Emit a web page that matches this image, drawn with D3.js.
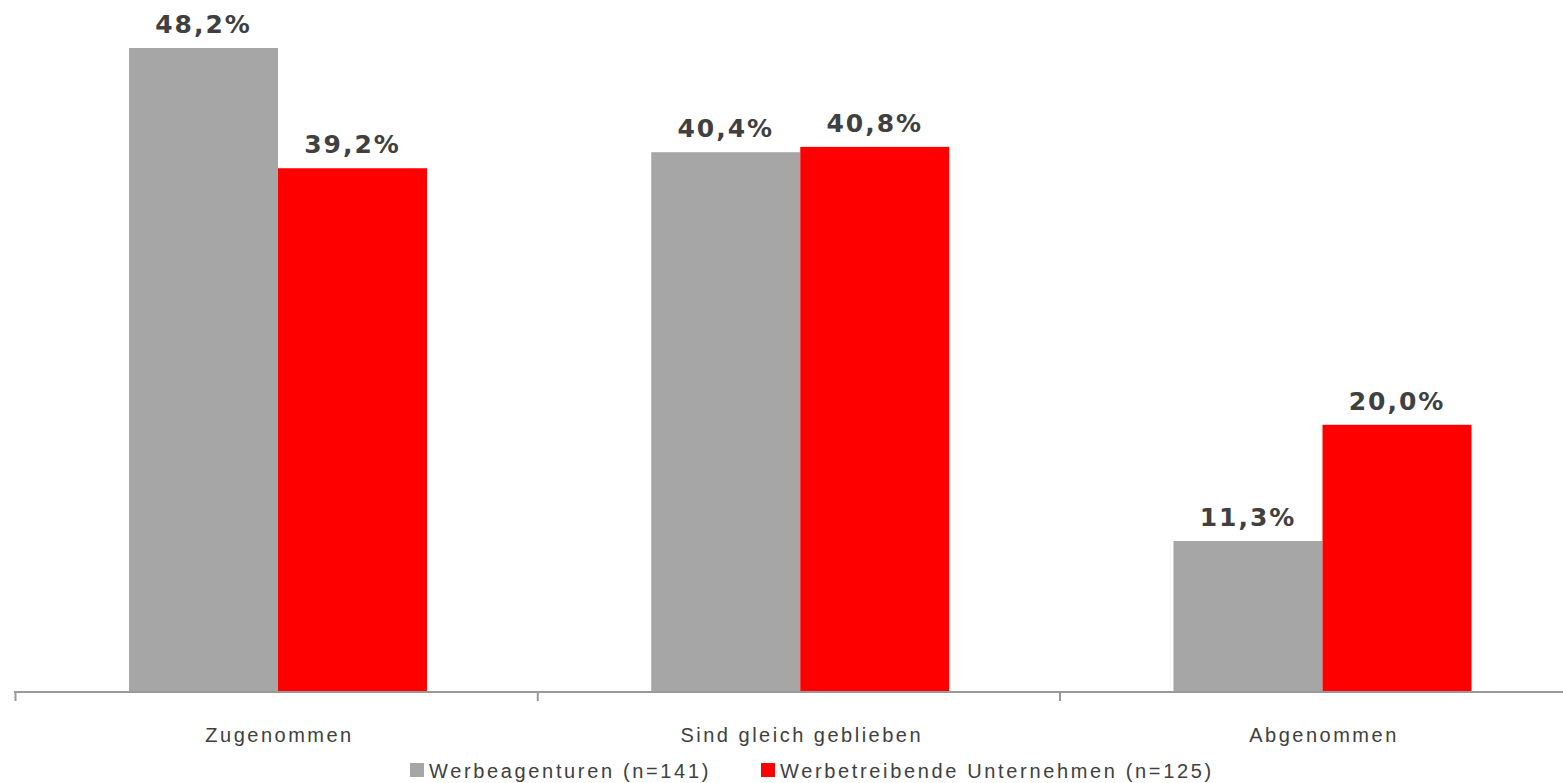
<!DOCTYPE html>
<html><head><meta charset="utf-8">
<script src="https://cdn.jsdelivr.net/npm/d3@7"></script>
<style>body{margin:0;background:#fff}svg{display:block}</style>
</head><body>
<svg id="c" width="1563" height="783"></svg>
<script>
const categories = ["Zugenommen", "Sind gleich geblieben", "Abgenommen"];
const seriesNames = ["Werbeagenturen (n=141)", "Werbetreibende Unternehmen (n=125)"];
const agenturen = [48.2, 40.4, 11.3];
const unternehmen = [39.2, 40.8, 20.0];
const colors = ["#a6a6a6", "#ff0000"];

const svg = d3.select("#c");
const baseY = 692;
const step = 522.25;
const x = d3.scaleBand().domain(categories).range([15, 15 + step * 3]).paddingInner(0).paddingOuter(0);
const barW = 149;
const x1 = d3.scaleBand().domain([0, 1]).range([114, 114 + 2 * barW]).padding(0);
const y = d3.scaleLinear().domain([0, 48.2]).range([baseY, 48]);
const fmt = v => v.toFixed(1).replace(".", ",") + "%";

const series = [agenturen, unternehmen];
const g = svg.append("g");
series.forEach((vals, s) => {
  g.selectAll(".b" + s).data(categories).enter().append("rect")
    .attr("x", d => x(d) + x1(s))
    .attr("width", x1.bandwidth())
    .attr("y", (d, i) => y(vals[i]))
    .attr("height", (d, i) => baseY + 1 - y(vals[i]))
    .attr("fill", colors[s]);
  g.selectAll(".l" + s).data(categories).enter().append("text")
    .attr("x", d => x(d) + x1(s) + x1.bandwidth() / 2)
    .attr("y", (d, i) => y(vals[i]) - 15)
    .attr("text-anchor", "middle")
    .attr("font-family", "DejaVu Sans")
    .attr("font-weight", "bold")
    .attr("font-size", 25)
    .attr("letter-spacing", "2px")
    .attr("fill", "#404040")
    .text((d, i) => fmt(vals[i]));
});

// axis
const axis = svg.append("g");
axis.append("line").attr("x1", 14).attr("x2", 1563).attr("y1", baseY).attr("y2", baseY)
  .attr("stroke", "#999999").attr("stroke-width", 2);
categories.forEach(c => {
  axis.append("line").attr("x1", x(c) + 0.5).attr("x2", x(c) + 0.5).attr("y1", baseY).attr("y2", 701)
    .attr("stroke", "#999999").attr("stroke-width", 2);
  axis.append("text").attr("x", x(c) + x1.range()[0] + barW + 1.5).attr("y", 742)
    .attr("text-anchor", "middle")
    .attr("font-family", "Liberation Sans")
    .attr("font-size", 20)
    .attr("letter-spacing", "2.5px")
    .attr("fill", "#404040")
    .text(c);
});

// legend
const legend = svg.append("g");
const legendX = [410, 761];
seriesNames.forEach((n, i) => {
  legend.append("rect").attr("x", legendX[i]).attr("y", 763).attr("width", 14).attr("height", 14).attr("fill", colors[i]);
  legend.append("text").attr("x", legendX[i] + 19).attr("y", 778)
    .attr("font-family", "Liberation Sans")
    .attr("font-size", 20)
    .attr("letter-spacing", "2.65px")
    .attr("fill", "#404040")
    .text(n);
});
</script>
</body></html>
